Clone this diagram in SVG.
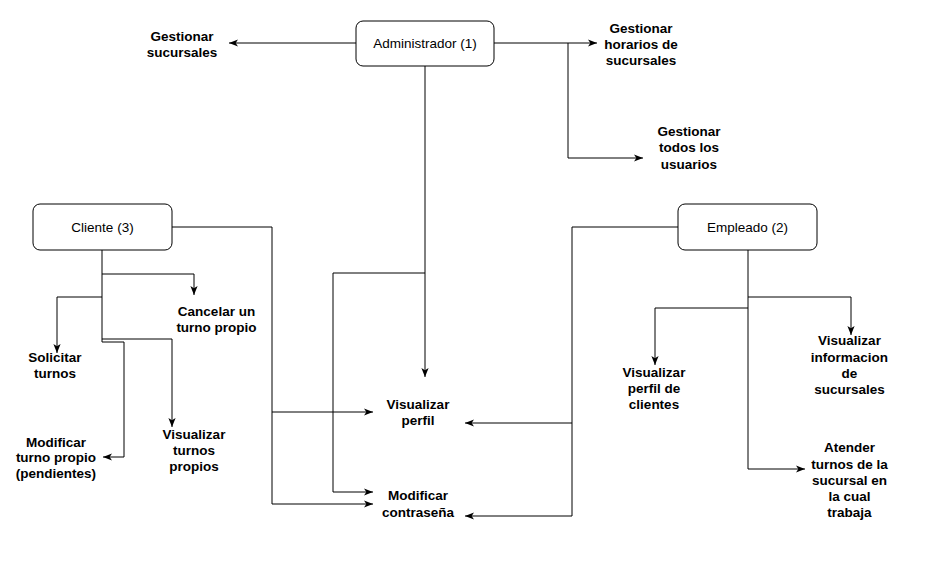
<svg xmlns="http://www.w3.org/2000/svg" width="942" height="588" viewBox="0 0 942 588">
  <style>
    .node rect { fill: #ffffff; stroke: #000000; stroke-width: 1; }
    .role { font-family: "Liberation Sans", Arial, sans-serif; font-size: 13.5px; fill: #000000; text-anchor: middle; }
    .act { font-family: "Liberation Sans", Arial, sans-serif; font-size: 13.5px; font-weight: bold; fill: #000000; text-anchor: middle; }
    .edge { fill: none; stroke: #000000; stroke-width: 1; marker-end: url(#arrow); }
    .trunk { fill: none; stroke: #000000; stroke-width: 1; }
  </style>
  <defs>
    <marker id="arrow" viewBox="0 0 10 10" refX="10" refY="5" markerWidth="9" markerHeight="9" markerUnits="userSpaceOnUse" orient="auto">
      <path d="M0,1 L10,5 L0,9 L2.6,5 Z" fill="#000000"/>
    </marker>
  </defs>

  <rect width="942" height="588" fill="#ffffff"/>

  <!-- connectors -->
  <g id="connectors">
    <!-- Administrador -->
    <path class="edge" d="M356,43 H229"/>
    <path class="edge" d="M494,43 H597"/>
    <path class="edge" d="M568,43 V158 H643"/>
    <path class="edge" d="M425,66 V377"/>
    <path class="edge" d="M425,273 H333 V492 H373"/>
    <!-- Cliente -->
    <path class="edge" d="M172,227 H272 V412 H373"/>
    <path class="edge" d="M272,412 V504 H373"/>
    <path class="trunk" d="M102,250 V342"/>
    <path class="edge" d="M102,274 H194 V295"/>
    <path class="edge" d="M102,297 H57 V353"/>
    <path class="edge" d="M102,339 H172 V427"/>
    <path class="edge" d="M102,342 H124 V457 H103"/>
    <!-- Empleado -->
    <path class="edge" d="M678,227 H572 V423 H465"/>
    <path class="edge" d="M572,423 V516 H465"/>
    <path class="edge" d="M748,250 V297 H851 V335"/>
    <path class="edge" d="M748,308 H655 V365"/>
    <path class="edge" d="M748,297 V469 H805"/>
  </g>

  <!-- role nodes -->
  <g id="admin" class="node">
    <rect x="356" y="21" width="138" height="45" rx="7" ry="7"/>
    <text class="role" x="425" y="48">Administrador (1)</text>
  </g>
  <g id="cliente" class="node">
    <rect x="33" y="204" width="139" height="46" rx="7" ry="7"/>
    <text class="role" x="102.5" y="232">Cliente (3)</text>
  </g>
  <g id="empleado" class="node">
    <rect x="678" y="204" width="139" height="46" rx="7" ry="7"/>
    <text class="role" x="747.5" y="232">Empleado (2)</text>
  </g>

  <!-- actions -->
  <g id="gestionar-sucursales">
    <text class="act" x="182" y="40.5">Gestionar</text>
    <text class="act" x="182" y="57">sucursales</text>
  </g>
  <g id="gestionar-horarios">
    <text class="act" x="641" y="32.5">Gestionar</text>
    <text class="act" x="641" y="48.5">horarios de</text>
    <text class="act" x="641" y="65">sucursales</text>
  </g>
  <g id="gestionar-usuarios">
    <text class="act" x="689" y="136">Gestionar</text>
    <text class="act" x="689" y="152">todos los</text>
    <text class="act" x="689" y="168.5">usuarios</text>
  </g>
  <g id="visualizar-perfil">
    <text class="act" x="418" y="408.5">Visualizar</text>
    <text class="act" x="418" y="425">perfil</text>
  </g>
  <g id="modificar-contrasena">
    <text class="act" x="418" y="500">Modificar</text>
    <text class="act" x="418" y="516.5">contraseña</text>
  </g>
  <g id="cancelar-turno">
    <text class="act" x="216.5" y="315.5">Cancelar un</text>
    <text class="act" x="216.5" y="332">turno propio</text>
  </g>
  <g id="solicitar-turnos">
    <text class="act" x="55" y="361.5">Solicitar</text>
    <text class="act" x="55" y="378">turnos</text>
  </g>
  <g id="modificar-turno">
    <text class="act" x="56" y="446.5">Modificar</text>
    <text class="act" x="56" y="462">turno propio</text>
    <text class="act" x="56" y="478">(pendientes)</text>
  </g>
  <g id="visualizar-turnos">
    <text class="act" x="194" y="438.5">Visualizar</text>
    <text class="act" x="194" y="454.5">turnos</text>
    <text class="act" x="194" y="470.5">propios</text>
  </g>
  <g id="visualizar-clientes">
    <text class="act" x="654" y="376.5">Visualizar</text>
    <text class="act" x="654" y="392.5">perfil de</text>
    <text class="act" x="654" y="409">clientes</text>
  </g>
  <g id="visualizar-info">
    <text class="act" x="849.5" y="345">Visualizar</text>
    <text class="act" x="849.5" y="361.5">informacion</text>
    <text class="act" x="849.5" y="377.5">de</text>
    <text class="act" x="849.5" y="394">sucursales</text>
  </g>
  <g id="atender-turnos">
    <text class="act" x="849.5" y="452">Atender</text>
    <text class="act" x="849.5" y="468.5">turnos de la</text>
    <text class="act" x="849.5" y="484.5">sucursal en</text>
    <text class="act" x="849.5" y="500.5">la cual</text>
    <text class="act" x="849.5" y="516.5">trabaja</text>
  </g>
</svg>
